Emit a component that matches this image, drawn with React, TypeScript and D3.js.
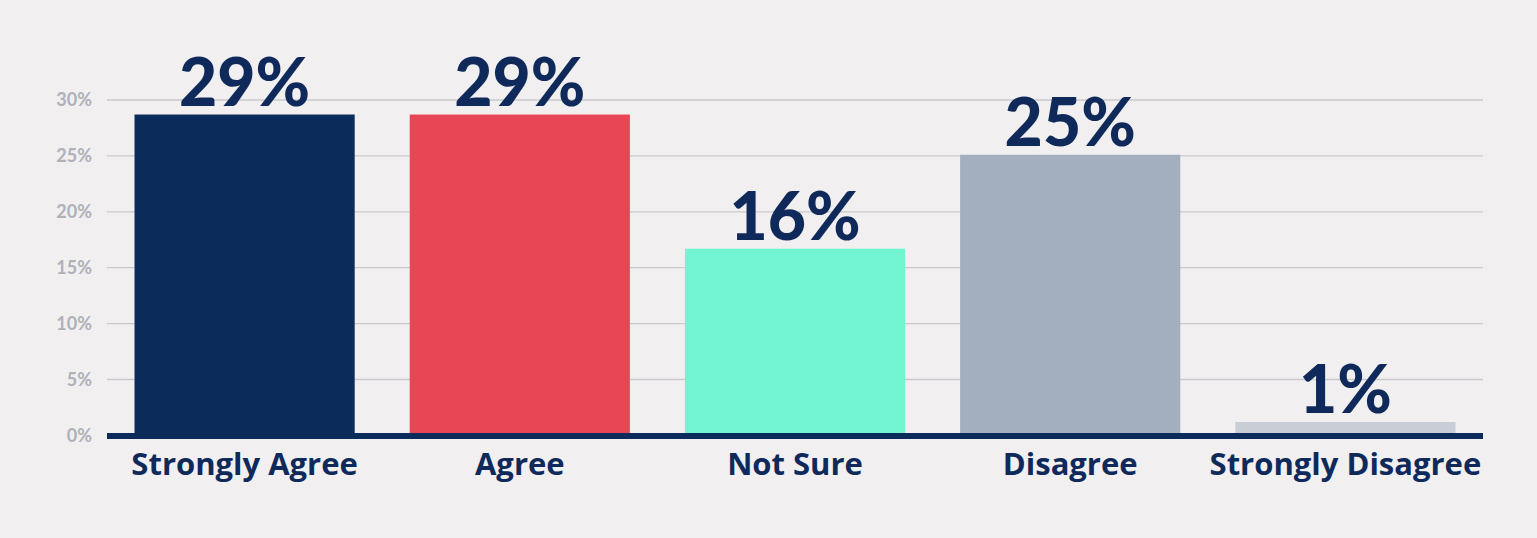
import React from "react";
import * as d3 from "d3";

const categories = ["Strongly Agree", "Agree", "Not Sure", "Disagree", "Strongly Disagree"];
const values = [28.7, 28.7, 16.7, 25.1, 1.2];
const valueLabels = ["29%", "29%", "16%", "25%", "1%"];
const barColors = ["#0b2b5b", "#e84555", "#74f5d2", "#a3aebf", "#c9ced6"];
const yTicks = [0, 5, 10, 15, 20, 25, 30];

const W = 1537;
const H = 538;
const left = 107;
const right = 1483;
const y0 = 435.4;
const pxPerPct = 11.18;

export default function App() {
  const x = d3.scaleBand<string>().domain(categories).range([left, right]).paddingInner(0.2).paddingOuter(0.1);
  const y = d3.scaleLinear().domain([0, 30]).range([y0, y0 - 30 * pxPerPct]);
  const navy = "#0f2a5a";
  return (
    <svg
      width={W}
      height={H}
      style={{ position: "absolute", left: 0, top: 0, background: "#f1eff0" }}
      fontFamily="Lato, 'Open Sans', sans-serif"
    >
      <rect x={0} y={0} width={W} height={H} fill="#f1eff0" />
      {yTicks.map((t) => (
        <g key={t}>
          {t > 0 && <line x1={left} x2={right} y1={y(t)} y2={y(t)} stroke="#c9c9cd" strokeWidth={1.3} />}
          <text x={92} y={y(t)} dy="0.35em" textAnchor="end" fontSize={18} fontWeight={700} fill="#aeb1ba">
            {t}%
          </text>
        </g>
      ))}
      {categories.map((c, i) => (
        <rect key={c} x={x(c)} y={y(values[i])} width={x.bandwidth()} height={y(0) - y(values[i])} fill={barColors[i]} />
      ))}
      <line x1={left} x2={right} y1={y(0) + 0.6} y2={y(0) + 0.6} stroke="#0b2b5b" strokeWidth={6} />
      {categories.map((c, i) => (
        <text
          key={"v" + c}
          x={(x(c) as number) + x.bandwidth() / 2}
          y={y(values[i]) - 9}
          textAnchor="middle"
          fontSize={66}
          fontWeight={900}
          fill={navy}
        >
          {valueLabels[i]}
        </text>
      ))}
      {categories.map((c, i) => (
        <text
          key={"c" + c}
          x={(x(c) as number) + x.bandwidth() / 2}
          y={475}
          textAnchor="middle"
          fontSize={31}
          fontWeight={700}
          fontFamily="'Open Sans', sans-serif"
          fill={navy}
        >
          {c}
        </text>
      ))}
    </svg>
  );
}
